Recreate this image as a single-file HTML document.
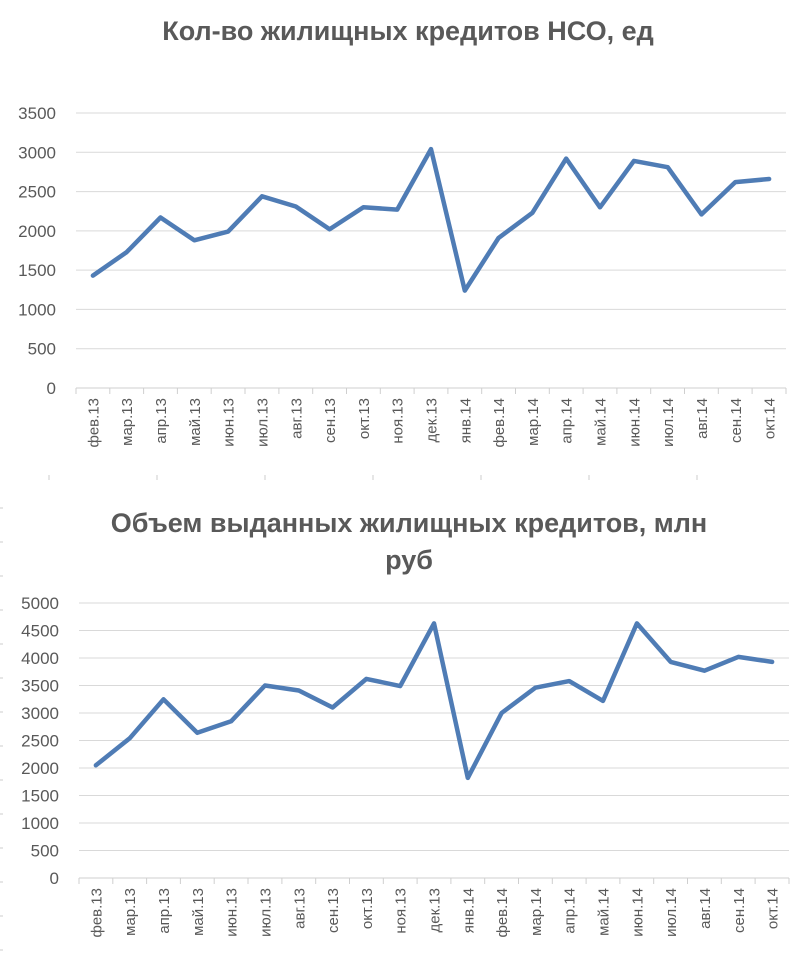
<!DOCTYPE html>
<html><head><meta charset="utf-8"><style>body{margin:0;background:#fff}svg{display:block}</style></head>
<body>
<svg width="800" height="960" xmlns="http://www.w3.org/2000/svg" font-family="Liberation Sans, sans-serif">
<g font-weight="bold" font-size="27" fill="#595959" text-anchor="middle">
<text x="408" y="40">Кол-во жилищных кредитов НСО, ед</text>
<text x="409" y="532">Объем выданных жилищных кредитов, млн</text>
<text x="409" y="569">руб</text>
</g>
<g stroke="#d9d9d9" stroke-width="1">
<line x1="76" x2="786" y1="348.7" y2="348.7"/><line x1="76" x2="786" y1="309.4" y2="309.4"/><line x1="76" x2="786" y1="270.1" y2="270.1"/><line x1="76" x2="786" y1="230.9" y2="230.9"/><line x1="76" x2="786" y1="191.6" y2="191.6"/><line x1="76" x2="786" y1="152.3" y2="152.3"/><line x1="76" x2="786" y1="113" y2="113"/>
<line x1="76" x2="786" y1="388" y2="388" stroke="#cfcfcf"/>
</g>
<path stroke="#cfcfcf" d="M76 388v6M109.8 388v6M143.6 388v6M177.4 388v6M211.2 388v6M245 388v6M278.9 388v6M312.7 388v6M346.5 388v6M380.3 388v6M414.1 388v6M447.9 388v6M481.7 388v6M515.5 388v6M549.3 388v6M583.1 388v6M616.9 388v6M650.7 388v6M684.5 388v6M718.3 388v6M752.1 388v6M786 388v6"/>
<g font-size="17" fill="#595959" text-anchor="end">
<text x="56" y="394">0</text><text x="56" y="354.7">500</text><text x="56" y="315.4">1000</text><text x="56" y="276.1">1500</text><text x="56" y="236.9">2000</text><text x="56" y="197.6">2500</text><text x="56" y="158.3">3000</text><text x="56" y="119">3500</text>
</g>
<g font-size="15" fill="#595959" text-anchor="end">
<text transform="translate(98.4,398) rotate(-90)">фев.13</text>
<text transform="translate(132.2,398) rotate(-90)">мар.13</text>
<text transform="translate(166,398) rotate(-90)">апр.13</text>
<text transform="translate(199.8,398) rotate(-90)">май.13</text>
<text transform="translate(233.6,398) rotate(-90)">июн.13</text>
<text transform="translate(267.5,398) rotate(-90)">июл.13</text>
<text transform="translate(301.3,398) rotate(-90)">авг.13</text>
<text transform="translate(335.1,398) rotate(-90)">сен.13</text>
<text transform="translate(368.9,398) rotate(-90)">окт.13</text>
<text transform="translate(402.7,398) rotate(-90)">ноя.13</text>
<text transform="translate(436.5,398) rotate(-90)">дек.13</text>
<text transform="translate(470.3,398) rotate(-90)">янв.14</text>
<text transform="translate(504.1,398) rotate(-90)">фев.14</text>
<text transform="translate(537.9,398) rotate(-90)">мар.14</text>
<text transform="translate(571.7,398) rotate(-90)">апр.14</text>
<text transform="translate(605.5,398) rotate(-90)">май.14</text>
<text transform="translate(639.4,398) rotate(-90)">июн.14</text>
<text transform="translate(673.2,398) rotate(-90)">июл.14</text>
<text transform="translate(707,398) rotate(-90)">авг.14</text>
<text transform="translate(740.8,398) rotate(-90)">сен.14</text>
<text transform="translate(774.6,398) rotate(-90)">окт.14</text>
</g>
<polyline fill="none" stroke="#4f7cb5" stroke-width="4.5" stroke-linejoin="round" stroke-linecap="round" points="92.9,275.6 126.7,252.1 160.5,217.5 194.3,240.3 228.1,231.6 262,196.3 295.8,206.5 329.6,229.3 363.4,207.3 397.2,209.6 431,149.1 464.8,290.6 498.6,237.9 532.4,212.8 566.2,158.6 600,207.3 633.9,160.9 667.7,167.2 701.5,214.4 735.3,182.1 769.1,179"/>

<g stroke="#d9d9d9" stroke-width="1">
<line x1="79" x2="789" y1="850.5" y2="850.5"/><line x1="79" x2="789" y1="823" y2="823"/><line x1="79" x2="789" y1="795.5" y2="795.5"/><line x1="79" x2="789" y1="768" y2="768"/><line x1="79" x2="789" y1="740.5" y2="740.5"/><line x1="79" x2="789" y1="713" y2="713"/><line x1="79" x2="789" y1="685.5" y2="685.5"/><line x1="79" x2="789" y1="658" y2="658"/><line x1="79" x2="789" y1="630.5" y2="630.5"/><line x1="79" x2="789" y1="603" y2="603"/>
<line x1="79" x2="789" y1="878" y2="878" stroke="#cfcfcf"/>
</g>
<path stroke="#cfcfcf" d="M79 878v6M112.8 878v6M146.6 878v6M180.4 878v6M214.2 878v6M248 878v6M281.9 878v6M315.7 878v6M349.5 878v6M383.3 878v6M417.1 878v6M450.9 878v6M484.7 878v6M518.5 878v6M552.3 878v6M586.1 878v6M619.9 878v6M653.7 878v6M687.5 878v6M721.3 878v6M755.1 878v6M789 878v6"/>
<g font-size="17" fill="#595959" text-anchor="end">
<text x="59" y="884">0</text><text x="59" y="856.5">500</text><text x="59" y="829">1000</text><text x="59" y="801.5">1500</text><text x="59" y="774">2000</text><text x="59" y="746.5">2500</text><text x="59" y="719">3000</text><text x="59" y="691.5">3500</text><text x="59" y="664">4000</text><text x="59" y="636.5">4500</text><text x="59" y="609">5000</text>
</g>
<g font-size="15" fill="#595959" text-anchor="end">
<text transform="translate(101.4,888) rotate(-90)">фев.13</text>
<text transform="translate(135.2,888) rotate(-90)">мар.13</text>
<text transform="translate(169,888) rotate(-90)">апр.13</text>
<text transform="translate(202.8,888) rotate(-90)">май.13</text>
<text transform="translate(236.6,888) rotate(-90)">июн.13</text>
<text transform="translate(270.5,888) rotate(-90)">июл.13</text>
<text transform="translate(304.3,888) rotate(-90)">авг.13</text>
<text transform="translate(338.1,888) rotate(-90)">сен.13</text>
<text transform="translate(371.9,888) rotate(-90)">окт.13</text>
<text transform="translate(405.7,888) rotate(-90)">ноя.13</text>
<text transform="translate(439.5,888) rotate(-90)">дек.13</text>
<text transform="translate(473.3,888) rotate(-90)">янв.14</text>
<text transform="translate(507.1,888) rotate(-90)">фев.14</text>
<text transform="translate(540.9,888) rotate(-90)">мар.14</text>
<text transform="translate(574.7,888) rotate(-90)">апр.14</text>
<text transform="translate(608.5,888) rotate(-90)">май.14</text>
<text transform="translate(642.4,888) rotate(-90)">июн.14</text>
<text transform="translate(676.2,888) rotate(-90)">июл.14</text>
<text transform="translate(710,888) rotate(-90)">авг.14</text>
<text transform="translate(743.8,888) rotate(-90)">сен.14</text>
<text transform="translate(777.6,888) rotate(-90)">окт.14</text>
</g>
<polyline fill="none" stroke="#4f7cb5" stroke-width="4.5" stroke-linejoin="round" stroke-linecap="round" points="95.9,765.3 129.7,738.3 163.5,699.3 197.3,732.8 231.1,721.3 265,685.5 298.8,690.5 332.6,707.5 366.4,678.9 400.2,686.1 434,623.4 467.8,777.9 501.6,713 535.4,687.7 569.2,681.1 603,700.9 636.9,623.4 670.7,661.9 704.5,670.7 738.3,656.9 772.1,661.9"/>

<path stroke="#cccccc" d="M0 508h3M0 542h3M0 576h3M0 610h3M0 644h3M0 678h3M0 712h3M0 746h3M0 780h3M0 814h3M0 848h3M0 882h3M0 916h3M0 950h3M49 475v5M157 475v5M265 475v5M373 475v5M481 475v5M589 475v5M697 475v5"/>
</svg>
</body></html>
